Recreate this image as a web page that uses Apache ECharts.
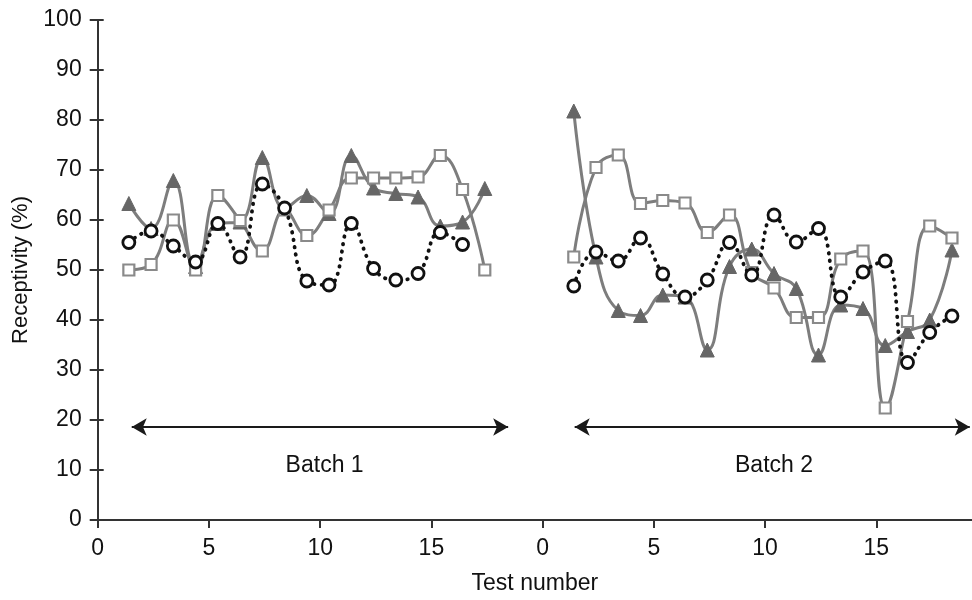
<!DOCTYPE html>
<html>
<head>
<meta charset="utf-8">
<script src="https://cdn.jsdelivr.net/npm/echarts@6/dist/echarts.min.js"></script>
<style>
html,body{margin:0;padding:0;background:#fff;}
#c{width:972px;height:600px;}
</style>
</head>
<body>
<div id="c"></div>
<script>
// ---- data ----
const batch1Tests = [1,2,3,4,5,6,7,8,9,10,11,12,13,14,15,16,17];
const batch2Tests = [1,2,3,4,5,6,7,8,9,10,11,12,13,14,15,16,17,18];
const b1Triangle = [63.3,58.3,67.9,50.7,59.3,59.6,72.5,62.3,64.9,61.3,72.9,66.4,65.3,64.6,58.8,59.6,66.3];
const b1Square   = [50.0,51.1,60.0,50.0,64.9,59.9,53.8,62.0,56.9,62.0,68.4,68.4,68.4,68.6,72.9,66.1,50.0];
const b1Circle   = [55.5,57.8,54.8,51.6,59.3,52.6,67.2,62.4,47.8,47.0,59.3,50.3,48.0,49.3,57.5,55.1];
const b2Triangle = [81.8,52.6,41.9,40.9,45.0,44.6,34.0,50.7,54.2,49.3,46.3,33.0,43.0,42.3,34.9,37.7,40.0,54.0];
const b2Square   = [52.6,70.5,73.0,63.3,63.9,63.4,57.5,61.0,49.5,46.4,40.5,40.5,52.2,53.8,22.4,39.7,58.8,56.4];
const b2Circle   = [46.8,53.6,51.8,56.4,49.2,44.6,48.0,55.5,49.0,61.0,55.6,58.3,44.6,49.6,51.8,31.5,37.5,40.8];
const xTickValues = [0,5,10,15,20,25,30,35];
const yTickValues = [0,10,20,30,40,50,60,70,80,90,100];
const batchNames = ['Batch 1','Batch 2'];
const batchArrowLevel = 18.6;
const batchArrows = [[1.53,18.45],[21.44,39.2]];
const batchLabelPos = [[10.2,10.8],[30.4,10.8]];

// horizontal layout helpers (axis units): batch 2 starts at 20, points sit 0.4 right of integer
const batchOffset = [0, 20];
const pointShift = 0.4;
function pts(tests, vals, b){ return vals.map((v,i)=>[batchOffset[b]+tests[i]+pointShift, v]); }

const FONT = '"Liberation Sans",Arial,sans-serif';
const gray = '#7d7d7d';

function lineSeries(name, data, kind){
  const base = {name, type:'line', data, smooth:0.45, z: 3};
  if(kind==='tri'){
    return Object.assign(base,{symbol:'triangle', symbolSize:14,
      lineStyle:{color:gray,width:3},
      itemStyle:{color:'#666666', borderColor:'#666666', borderWidth:1}});
  }
  if(kind==='sq'){
    return Object.assign(base,{symbol:'rect', symbolSize:11,
      lineStyle:{color:gray,width:3},
      itemStyle:{color:'#ffffff', borderColor:'#8a8a8a', borderWidth:2.2}});
  }
  return Object.assign(base,{symbol:'circle', symbolSize:12, z:4,
    lineStyle:{color:'#111',width:3.8,type:[0.5,7],cap:'round'},
    itemStyle:{color:'#ffffff', borderColor:'#111', borderWidth:2.8}});
}

const series = [
  lineSeries('b1tri', pts(batch1Tests,b1Triangle,0),'tri'),
  lineSeries('b1sq',  pts(batch1Tests,b1Square,0),'sq'),
  lineSeries('b1circ',pts(batch1Tests,b1Circle,0),'circ'),
  lineSeries('b2tri', pts(batch2Tests,b2Triangle,1),'tri'),
  lineSeries('b2sq',  pts(batch2Tests,b2Square,1),'sq'),
  lineSeries('b2circ',pts(batch2Tests,b2Circle,1),'circ'),
  {
    type:'scatter', symbolSize:0, silent:true,
    itemStyle:{opacity:1},
    data: batchLabelPos.map((p,i)=>({value:p, name:batchNames[i]})),
    label:{show:true, position:'inside', formatter:p=>p.name, color:'#111', fontSize:23, fontFamily:FONT, textBorderWidth:0, opacity:1},
    markLine:{
      silent:true, symbol:['arrow','arrow'], symbolSize:[13,15],
      lineStyle:{color:'#1a1a1a', width:2.2, type:'solid', opacity:1},
      label:{show:false},
      data: batchArrows.map(a=>[{coord:[a[0],batchArrowLevel]},{coord:[a[1],batchArrowLevel]}])
    }
  }
];

const chart = echarts.init(document.getElementById('c'), null, {renderer:'canvas'});
chart.setOption({
  animation:false,
  backgroundColor:'#fff',
  grid:{left:97.7, right:0, top:20, bottom:76.7, containLabel:false},
  xAxis:{
    type:'value', min:0, max:39.3, interval:5,
    name:'Test number', nameLocation:'middle', nameGap:52,
    nameTextStyle:{fontSize:23, color:'#111', fontFamily:FONT},
    axisLine:{show:true, lineStyle:{color:'#333', width:2}},
    axisTick:{show:true, length:8, lineStyle:{color:'#333', width:2}, customValues:xTickValues},
    axisLabel:{show:true, fontSize:23, color:'#111', fontFamily:FONT, margin:17,
      customValues:xTickValues, formatter:v=>String(Math.round(v)%20)},
    splitLine:{show:false}
  },
  yAxis:[{
    type:'value', min:0, max:100, interval:10,
    name:'Receptivity (%)', nameLocation:'middle', nameGap:64,
    nameTextStyle:{fontSize:22, color:'#111', fontFamily:FONT},
    axisLine:{show:true, lineStyle:{color:'#333', width:2}},
    axisTick:{show:true, length:8, lineStyle:{color:'#333', width:2}, customValues:yTickValues},
    axisLabel:{show:true, fontSize:23, color:'#111', fontFamily:FONT, margin:16, customValues:yTickValues},
    splitLine:{show:false}
  },{
    type:'value', min:0, max:100, interval:10, position:'left', offset:0,
    axisLine:{show:true, lineStyle:{color:'#333', width:2}},
    axisTick:{show:true, inside:true, length:6, lineStyle:{color:'#333', width:2}, customValues:yTickValues},
    axisLabel:{show:false}, splitLine:{show:false}
  }],
  series
});
</script>
</body>
</html>
